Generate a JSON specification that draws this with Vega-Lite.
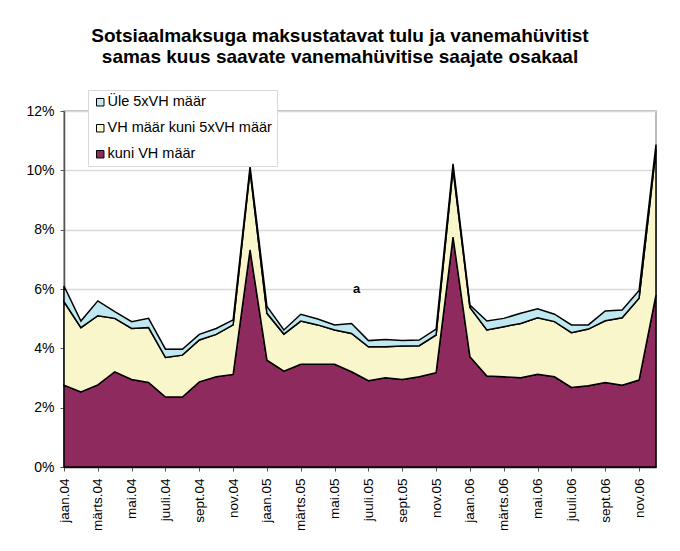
{
  "$schema": "https://vega.github.io/schema/vega-lite/v6.json",
  "width": 592,
  "height": 356,
  "autosize": {"type": "none"},
  "padding": {"left": 64, "top": 111, "right": 24, "bottom": 84},
  "background": "white",
  "config": {
    "font": "Liberation Sans",
    "view": {"stroke": "#a6a6a6", "strokeWidth": 1.5}
  },
  "title": {
    "text": ["Sotsiaalmaksuga maksustatavat tulu ja vanemahüvitist", "samas kuus saavate vanemahüvitise saajate osakaal"],
    "font": "Liberation Sans",
    "fontSize": 19,
    "fontWeight": "bold",
    "color": "black",
    "lineHeight": 21,
    "anchor": "middle",
    "dx": -20,
    "offset": 23
  },
  "data": {
    "values": [
      {"m": "jaan.04", "kuni VH määr": 2.76, "VH määr kuni 5xVH määr": 2.81, "Üle 5xVH määr": 0.53},
      {"m": "veebr.04", "kuni VH määr": 2.53, "VH määr kuni 5xVH määr": 2.17, "Üle 5xVH määr": 0.22},
      {"m": "märts.04", "kuni VH määr": 2.77, "VH määr kuni 5xVH määr": 2.33, "Üle 5xVH määr": 0.50},
      {"m": "apr.04", "kuni VH määr": 3.21, "VH määr kuni 5xVH määr": 1.80, "Üle 5xVH määr": 0.23},
      {"m": "mai.04", "kuni VH määr": 2.95, "VH määr kuni 5xVH määr": 1.72, "Üle 5xVH määr": 0.23},
      {"m": "juuni.04", "kuni VH määr": 2.85, "VH määr kuni 5xVH määr": 1.85, "Üle 5xVH määr": 0.31},
      {"m": "juuli.04", "kuni VH määr": 2.36, "VH määr kuni 5xVH määr": 1.33, "Üle 5xVH määr": 0.28},
      {"m": "aug.04", "kuni VH määr": 2.36, "VH määr kuni 5xVH määr": 1.41, "Üle 5xVH määr": 0.20},
      {"m": "sept.04", "kuni VH määr": 2.87, "VH määr kuni 5xVH määr": 1.41, "Üle 5xVH määr": 0.19},
      {"m": "okt.04", "kuni VH määr": 3.04, "VH määr kuni 5xVH määr": 1.43, "Üle 5xVH määr": 0.20},
      {"m": "nov.04", "kuni VH määr": 3.12, "VH määr kuni 5xVH määr": 1.67, "Üle 5xVH määr": 0.17},
      {"m": "dets.04", "kuni VH määr": 7.32, "VH määr kuni 5xVH määr": 2.68, "Üle 5xVH määr": 0.12},
      {"m": "jaan.05", "kuni VH määr": 3.60, "VH määr kuni 5xVH määr": 1.58, "Üle 5xVH määr": 0.23},
      {"m": "veebr.05", "kuni VH määr": 3.23, "VH määr kuni 5xVH määr": 1.25, "Üle 5xVH määr": 0.14},
      {"m": "märts.05", "kuni VH määr": 3.46, "VH määr kuni 5xVH määr": 1.46, "Üle 5xVH määr": 0.23},
      {"m": "apr.05", "kuni VH määr": 3.46, "VH määr kuni 5xVH määr": 1.33, "Üle 5xVH määr": 0.20},
      {"m": "mai.05", "kuni VH määr": 3.46, "VH määr kuni 5xVH määr": 1.16, "Üle 5xVH määr": 0.17},
      {"m": "juuni.05", "kuni VH määr": 3.21, "VH määr kuni 5xVH määr": 1.29, "Üle 5xVH määr": 0.34},
      {"m": "juuli.05", "kuni VH määr": 2.91, "VH määr kuni 5xVH määr": 1.14, "Üle 5xVH määr": 0.21},
      {"m": "aug.05", "kuni VH määr": 3.01, "VH määr kuni 5xVH määr": 1.04, "Üle 5xVH määr": 0.25},
      {"m": "sept.05", "kuni VH määr": 2.95, "VH määr kuni 5xVH määr": 1.13, "Üle 5xVH määr": 0.18},
      {"m": "okt.05", "kuni VH määr": 3.04, "VH määr kuni 5xVH määr": 1.05, "Üle 5xVH määr": 0.19},
      {"m": "nov.05", "kuni VH määr": 3.18, "VH määr kuni 5xVH määr": 1.27, "Üle 5xVH määr": 0.20},
      {"m": "dets.05", "kuni VH määr": 7.75, "VH määr kuni 5xVH määr": 2.30, "Üle 5xVH määr": 0.17},
      {"m": "jaan.06", "kuni VH määr": 3.72, "VH määr kuni 5xVH määr": 1.66, "Üle 5xVH määr": 0.08},
      {"m": "veebr.06", "kuni VH määr": 3.07, "VH määr kuni 5xVH määr": 1.55, "Üle 5xVH määr": 0.30},
      {"m": "märts.06", "kuni VH määr": 3.04, "VH määr kuni 5xVH määr": 1.69, "Üle 5xVH määr": 0.28},
      {"m": "apr.06", "kuni VH määr": 3.01, "VH määr kuni 5xVH määr": 1.83, "Üle 5xVH määr": 0.34},
      {"m": "mai.06", "kuni VH määr": 3.13, "VH määr kuni 5xVH määr": 1.90, "Üle 5xVH määr": 0.30},
      {"m": "juuni.06", "kuni VH määr": 3.04, "VH määr kuni 5xVH määr": 1.86, "Üle 5xVH määr": 0.25},
      {"m": "juuli.06", "kuni VH määr": 2.68, "VH määr kuni 5xVH määr": 1.85, "Üle 5xVH määr": 0.26},
      {"m": "aug.06", "kuni VH määr": 2.74, "VH määr kuni 5xVH määr": 1.91, "Üle 5xVH määr": 0.14},
      {"m": "sept.06", "kuni VH määr": 2.85, "VH määr kuni 5xVH määr": 2.08, "Üle 5xVH määr": 0.33},
      {"m": "okt.06", "kuni VH määr": 2.76, "VH määr kuni 5xVH määr": 2.27, "Üle 5xVH määr": 0.26},
      {"m": "nov.06", "kuni VH määr": 2.93, "VH määr kuni 5xVH määr": 2.76, "Üle 5xVH määr": 0.26},
      {"m": "dets.06", "kuni VH määr": 5.80, "VH määr kuni 5xVH määr": 4.90, "Üle 5xVH määr": 0.17}
    ]
  },
  "layer": [
    {
      "transform": [
        {"fold": ["kuni VH määr", "VH määr kuni 5xVH määr", "Üle 5xVH määr"], "as": ["s", "val"]},
        {"calculate": "indexof(['kuni VH määr', 'VH määr kuni 5xVH määr', 'Üle 5xVH määr'], datum.s)", "as": "ord"}
      ],
      "mark": {"type": "area", "stroke": "black", "strokeWidth": 1.5, "strokeJoin": "miter", "fillOpacity": 1},
      "encoding": {
        "x": {
          "field": "m",
          "type": "ordinal",
          "sort": null,
          "scale": {"type": "point", "padding": 0},
          "axis": {
            "title": null,
            "values": ["jaan.04", "märts.04", "mai.04", "juuli.04", "sept.04", "nov.04", "jaan.05", "märts.05", "mai.05", "juuli.05", "sept.05", "nov.05", "jaan.06", "märts.06", "mai.06", "juuli.06", "sept.06", "nov.06"],
            "labelAngle": -90,
            "labelAlign": "right",
            "labelBaseline": "middle",
            "labelFont": "Liberation Sans",
            "labelFontSize": 13.5,
            "labelColor": "black",
            "labelPadding": 7,
            "domainColor": "#333333",
            "domainWidth": 1.5,
            "tickColor": "#555555",
            "tickSize": 4,
            "grid": false
          }
        },
        "y": {
          "field": "val",
          "type": "quantitative",
          "stack": "zero",
          "scale": {"domain": [0, 12], "nice": false},
          "axis": {
            "title": null,
            "values": [0, 2, 4, 6, 8, 10, 12],
            "labelExpr": "datum.value + '%'",
            "labelFont": "Liberation Sans",
            "labelFontSize": 14,
            "labelColor": "black",
            "labelPadding": 6,
            "domainColor": "#555555",
            "domainWidth": 1.5,
            "tickColor": "#555555",
            "tickSize": 4,
            "gridColor": "#d9d9d9",
            "gridWidth": 1.5
          }
        },
        "color": {
          "field": "s",
          "type": "nominal",
          "scale": {
            "domain": ["Üle 5xVH määr", "VH määr kuni 5xVH määr", "kuni VH määr"],
            "range": ["#bfe8f0", "#faf6cc", "#8e2a5e"]
          },
          "legend": {
            "title": null,
            "orient": "none",
            "legendX": 24,
            "legendY": -21,
            "fillColor": "white",
            "strokeColor": "#d9d9d9",
            "padding": 5,
            "symbolType": "square",
            "symbolSize": 56,
            "symbolStrokeColor": "black",
            "symbolStrokeWidth": 1,
            "symbolOpacity": 1,
            "labelFont": "Liberation Sans",
            "labelFontSize": 14.5,
            "labelLimit": 400,
            "labelColor": "black",
            "labelOffset": 0,
            "rowPadding": 11
          }
        },
        "order": {"field": "ord", "type": "quantitative"}
      }
    },
    {
      "data": {"values": [{"m": "juuni.05", "y": 6, "t": "a"}]},
      "mark": {"type": "text", "font": "Liberation Sans", "fontSize": 13, "fontWeight": "bold", "color": "black", "dx": 5, "baseline": "middle"},
      "encoding": {
        "x": {"field": "m", "type": "ordinal", "sort": null},
        "y": {"field": "y", "type": "quantitative"},
        "text": {"field": "t"}
      }
    }
  ]
}
